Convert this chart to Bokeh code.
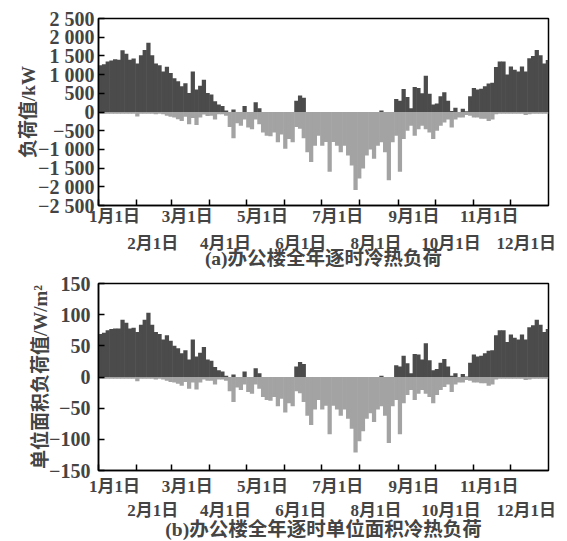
from bokeh.plotting import figure
from bokeh.models import Range1d, FixedTicker, LinearAxis, ColumnDataSource
from bokeh.layouts import column
from bokeh.embed import file_html
from bokeh.resources import INLINE

# ---------------- data ----------------
month_start_days = [0, 31, 59, 90, 120, 151, 181, 212, 243, 273, 304, 334]
month_labels = ["1月1日", "2月1日", "3月1日", "4月1日", "5月1日", "6月1日",
                "7月1日", "8月1日", "9月1日", "10月1日", "11月1日", "12月1日"]
bin_days = 3  # each value = envelope of a 3-day period

# (a) hourly heating (+) / cooling (-) load envelope, kW
heat_kw = [1250, 1280, 1350, 1380, 1410, 1400, 1650, 1560, 1400, 1430,
           1300, 1520, 1660, 1850, 1520, 1300, 1250, 1085, 1210, 1040,
           900, 820, 690, 770, 510, 1085, 600, 700, 865, 510,
           470, 290, 200, 160, 40, 0, 70, 0, 0, 160,
           0, 0, 260, 100, 0, 0, 0, 0, 0, 0,
           0, 0, 0, 300, 440, 380, 0, 0, 0, 0,
           0, 0, 0, 0, 0, 0, 0, 0, 0, 0,
           0, 0, 0, 0, 0, 0, 40, 0, 0, 0,
           350, 300, 615, 400, 100, 670, 640, 500, 970, 490,
           200, 230, 420, 530, 300, 30, 115, 0, 90, 20,
           420, 640, 600, 620, 690, 760, 780, 1200, 1350, 1350,
           1000, 1215, 1130, 1080, 1215, 1080, 1435, 1500, 1655, 1520,
           1300, 1390]
cool_kw = [-45, -45, -45, -45, -45, -45, -45, -45, -45, -45,
           -120, -45, -45, -45, -45, -60, -45, -60, -100, -130,
           -150, -195, -240, -130, -325, -160, -350, -150, -70, -105,
           -100, -200, -60, -60, -100, -400, -700, -300, -370, -200,
           -415, -460, -200, -330, -545, -635, -650, -545, -810, -600,
           -985, -720, -810, -400, -450, -700, -1075, -1340, -900, -635,
           -900, -800, -1600, -800, -900, -1075, -900, -1160, -1430, -2085,
           -1780, -1510, -1160, -1000, -1250, -900, -810, -1075, -1825, -810,
           -635, -1600, -720, -500, -370, -635, -460, -370, -460, -545,
           -720, -500, -370, -280, -200, -415, -200, -150, -150, -80,
           -100, -150, -150, -180, -180, -240, -200, -60, -45, -45,
           -45, -45, -45, -45, -45, -80, -60, -45, -45, -45,
           -45, -45]

# (b) per-unit-area load envelope, W/m2
heat_wm2 = [69, 71, 75, 77, 78, 78, 92, 87, 78, 79,
            72, 84, 92, 103, 84, 72, 69, 60, 67, 58,
            50, 46, 38, 43, 28, 60, 33, 39, 48, 28,
            26, 16, 11, 9, 2, 0, 4, 0, 0, 9,
            0, 0, 14, 6, 0, 0, 0, 0, 0, 0,
            0, 0, 0, 17, 24, 21, 0, 0, 0, 0,
            0, 0, 0, 0, 0, 0, 0, 0, 0, 0,
            0, 0, 0, 0, 0, 0, 2, 0, 0, 0,
            19, 17, 34, 22, 6, 37, 36, 28, 54, 27,
            11, 13, 23, 29, 17, 2, 6, 0, 5, 1,
            23, 36, 33, 34, 38, 42, 43, 67, 75, 75,
            56, 68, 63, 60, 68, 60, 80, 83, 92, 84,
            72, 77]
cool_wm2 = [-3, -3, -3, -3, -3, -3, -3, -3, -3, -3,
            -7, -3, -3, -3, -3, -4, -3, -4, -6, -8,
            -9, -11, -14, -8, -19, -9, -20, -9, -4, -6,
            -6, -12, -4, -4, -6, -23, -40, -17, -21, -12,
            -24, -27, -12, -19, -32, -37, -38, -32, -47, -35,
            -57, -42, -47, -23, -26, -40, -62, -77, -52, -37,
            -52, -46, -92, -46, -52, -62, -52, -67, -83, -121,
            -103, -87, -67, -58, -72, -52, -47, -62, -106, -47,
            -37, -92, -42, -29, -21, -37, -27, -21, -27, -32,
            -42, -29, -21, -16, -12, -24, -12, -9, -9, -5,
            -6, -9, -9, -10, -10, -14, -12, -4, -3, -3,
            -3, -3, -3, -3, -3, -5, -4, -3, -3, -3,
            -3, -3]

top_ticks = [-2500, -2000, -1500, -1000, -500, 0, 500, 1000, 1500, 2000, 2500]
top_tick_labels = ["−2 500", "−2 000", "−1 500", "−1 000", "−500", "0",
                   "500", "1 000", "1 500", "2 000", "2 500"]
bot_ticks = [-150, -100, -50, 0, 50, 100, 150]
bot_tick_labels = ["−150", "−100", "−50", "0", "50", "100", "150"]

top_title = "负荷值/kW"
bot_title = "单位面积负荷值/W/m²"
top_caption = "(a)办公楼全年逐时冷热负荷"
bot_caption = "(b)办公楼全年逐时单位面积冷热负荷"

# ---------------- style ----------------
FONT = "Liberation Serif, Noto Sans CJK SC, serif"
DARK = "#4b4b4b"
LIGHT = "#a3a3a3"
LABEL_SHIFT = 13  # days: tick labels sit right of their tick


def make_panel(heat, cool, ylim, ticks, tick_labels, ytitle, caption,
               top_border, label_standoff, title_standoff,
               row1_standoff, row2_standoff, caption_standoff):
    p = figure(frame_width=450, frame_height=187,
               x_range=Range1d(0, 365), y_range=Range1d(*ylim),
               x_axis_location=None, output_backend="svg", toolbar_location=None,
               min_border_left=98, min_border_right=8, min_border_top=top_border,
               min_border_bottom=0, background_fill_color="white",
               border_fill_color="white")
    p.grid.visible = False
    p.outline_line_color = "black"
    p.outline_line_width = 1.5

    xs = [bin_days * i + bin_days / 2 for i in range(len(heat))]
    src = ColumnDataSource(dict(x=xs, heat=heat, cool=cool))
    p.vbar(x="x", top="heat", bottom=0, width=bin_days * 1.15, source=src,
           fill_color=DARK, line_color=None)
    p.vbar(x="x", top=0, bottom="cool", width=bin_days * 1.15, source=src,
           fill_color=LIGHT, line_color=None)

    ya = p.yaxis[0]
    ya.ticker = FixedTicker(ticks=ticks)
    ya.major_label_overrides = {t: l for t, l in zip(ticks, tick_labels)}
    ya.major_tick_in = 6
    ya.major_tick_out = 0
    ya.minor_tick_line_color = None
    ya.major_tick_line_width = 1.5
    ya.axis_line_width = 1.5
    ya.major_label_standoff = label_standoff
    ya.major_label_text_font = FONT
    ya.major_label_text_font_style = "bold"
    ya.major_label_text_font_size = "20px"
    ya.axis_label = ytitle
    ya.axis_label_text_font = FONT
    ya.axis_label_text_font_style = "bold"
    ya.axis_label_text_font_size = "19px"
    ya.axis_label_standoff = title_standoff

    # tick marks at month starts
    ax_ticks = LinearAxis(ticker=FixedTicker(ticks=month_start_days),
                          major_tick_in=6, major_tick_out=0,
                          major_tick_line_width=1.5, axis_line_width=1.5,
                          minor_tick_line_color=None,
                          major_label_text_font_size="1px",
                          major_label_text_alpha=0, major_label_standoff=0)
    p.add_layout(ax_ticks, "below")

    odd_pos = [d + LABEL_SHIFT for d in month_start_days[0::2]]
    even_pos = [d + LABEL_SHIFT for d in month_start_days[1::2]]
    for pos, labs, standoff, cap in ((odd_pos, month_labels[0::2], row1_standoff, None),
                                     (even_pos, month_labels[1::2], row2_standoff, caption)):
        ax = LinearAxis(ticker=FixedTicker(ticks=pos),
                        major_label_overrides={t: l for t, l in zip(pos, labs)},
                        axis_line_color=None, major_tick_line_color=None,
                        minor_tick_line_color=None, major_tick_in=0, major_tick_out=0,
                        major_label_standoff=standoff,
                        major_label_text_font=FONT,
                        major_label_text_font_style="bold",
                        major_label_text_font_size="17px")
        if cap:
            ax.axis_label = cap
            ax.axis_label_text_font = FONT
            ax.axis_label_text_font_style = "bold"
            ax.axis_label_text_font_size = "19.5px"
            ax.axis_label_standoff = caption_standoff
        p.add_layout(ax, "below")
    return p


p1 = make_panel(heat_kw, cool_kw, (-2500, 2500), top_ticks, top_tick_labels,
                top_title, top_caption, 18, 4, -4, 1, 5, -8)
p2 = make_panel(heat_wm2, cool_wm2, (-150, 150), bot_ticks, bot_tick_labels,
                bot_title, bot_caption, 12, 8, -5, 6, 2, -4)

layout = column(p1, p2, spacing=0)
open("out.html", "w").write(file_html(layout, INLINE))
